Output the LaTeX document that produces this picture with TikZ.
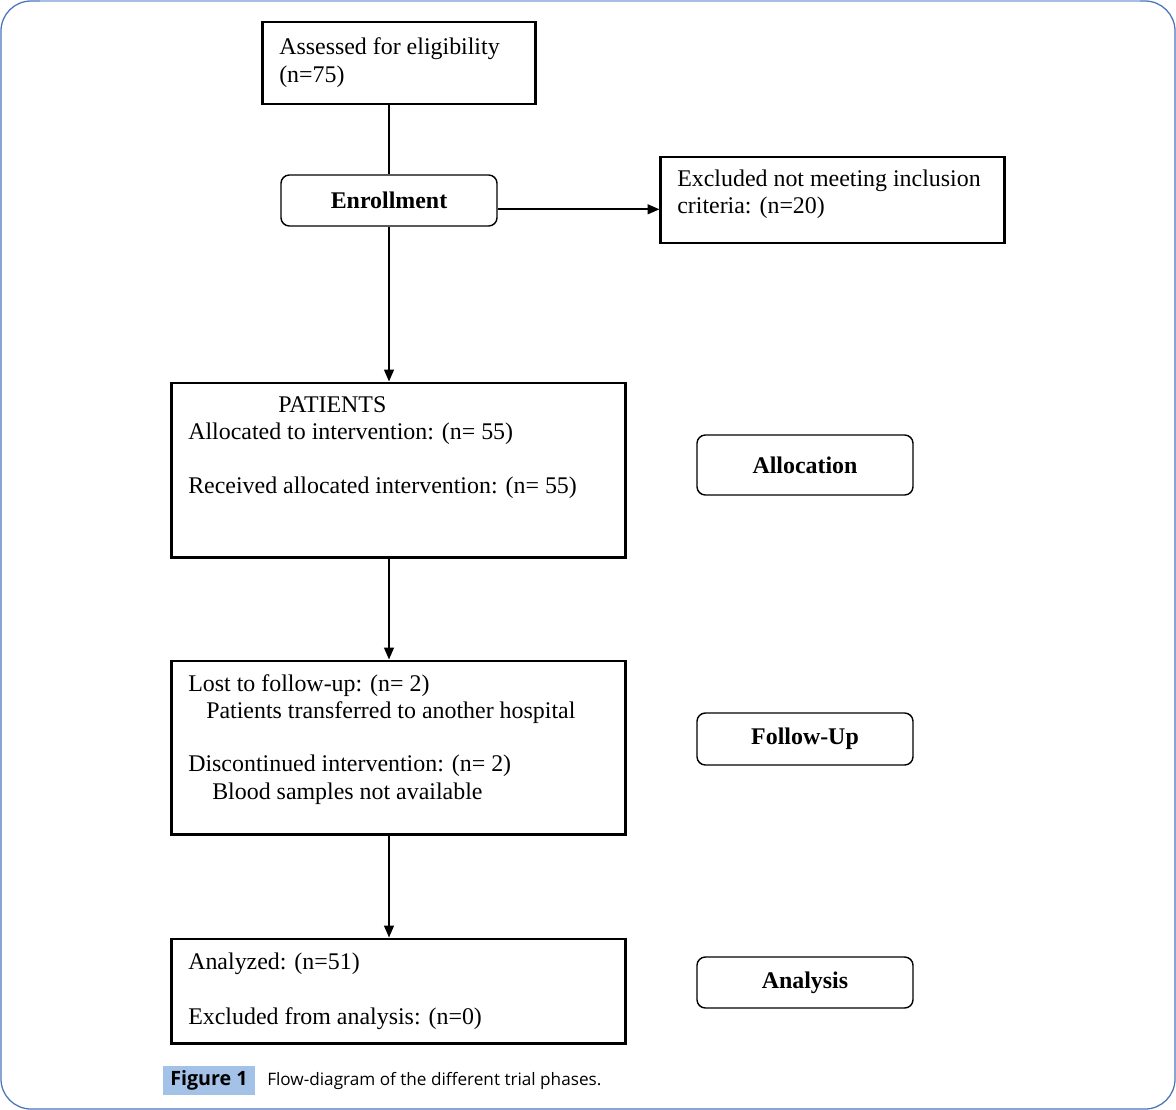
\documentclass[tikz,border=0pt]{standalone}
\usepackage{fontspec}
\setmainfont{Liberation Serif}
\newfontfamily\capfont{Open Sans}
\usetikzlibrary{arrows,arrows.meta,positioning}
\definecolor{framecol}{HTML}{4A74BC}
\definecolor{frametop}{HTML}{A8BFE3}
\definecolor{capfill}{HTML}{A4C2E8}

\begin{document}
\begin{tikzpicture}[
  x=0.025cm, y=-0.025cm,
  every node/.style={font=\fontsize{17}{20}\selectfont},
  box/.style={draw, line width=2.1pt, inner sep=0pt},
  widebox/.style={box, minimum width=11.325cm},
  phase/.style={draw, rounded corners=6pt, line width=1pt, minimum width=5.4cm, font=\fontsize{17}{20}\selectfont\bfseries},
  txt/.style={anchor=base west, inner sep=0pt},
  flow/.style={line width=1.2pt, -{Triangle[length=8.5pt,width=7pt]}}
]
\useasboundingbox (0,0) rectangle (1176,1110);
\draw[framecol, line width=0.9pt, rounded corners=0.75cm] (1,1) rectangle (1175,1109);
\draw[frametop, line width=0.9pt] (40,1) -- (1140,1);

% boxes
\node[box, minimum width=6.8cm, minimum height=2.05cm] (assess) at (399,63) {};
\node[phase, minimum height=1.275cm] (enroll) at (389,200.5) {Enrollment};
\node[box, minimum width=8.575cm, minimum height=2.15cm] (excl) at (832.5,200) {};
\node[widebox, minimum height=4.35cm] (patients) at (398.5,470) {};
\node[widebox, minimum height=4.325cm] (lost) at (398.5,747.5) {};
\node[widebox, minimum height=2.6cm] (analyzed) at (398.5,991) {};
\node[phase, minimum height=1.5cm] (alloc) at (805,465) {Allocation};
\node[phase, minimum height=1.3cm] (follow) at (805,739) {Follow-Up};
\node[phase, minimum height=1.275cm] (analysis) at (805,982.5) {Analysis};

% texts
\node[txt] (t-assess1) at (279,55) {Assessed for eligibility};
\node[txt] (t-assess2) at (279,83) {(n=75)};
\node[txt] (t-excl1) at (677,187) {Excluded not meeting inclusion};
\node[txt] (t-excl2) at (677,213) {criteria: (n=20)};
\node[txt] (t-pat) at (278,412) {PATIENTS};
\node[txt] (t-pat1) at (188,439) {Allocated to intervention: (n= 55)};
\node[txt] (t-pat2) at (188,493) {Received allocated intervention: (n= 55)};
\node[txt] (t-lost1) at (188,691) {Lost to follow-up: (n= 2)};
\node[txt] (t-lost2) at (206,718) {Patients transferred to another hospital};
\node[txt] (t-lost3) at (188,771) {Discontinued intervention: (n= 2)};
\node[txt] (t-lost4) at (212,799) {Blood samples not available};
\node[txt] (t-an1) at (188,969) {Analyzed: (n=51)};
\node[txt] (t-an2) at (188,1024) {Excluded from analysis: (n=0)};

% connectors
\draw[line width=1.2pt] (assess.south -| enroll.north) -- (enroll.north);
\draw[flow] (enroll.south) -- (enroll.south |- patients.north);
\draw[flow] ([yshift=-0.22cm]enroll.east) -- ([yshift=-0.22cm]enroll.east -| excl.west);
\draw[flow] (patients.south -| enroll.south) -- (lost.north -| enroll.south);
\draw[flow] (lost.south -| enroll.south) -- (analyzed.north -| enroll.south);

% caption
\node[fill=capfill, minimum width=2.3cm, minimum height=0.725cm, inner sep=0pt,
  font=\capfont\fontsize{14}{16}\selectfont\bfseries] (figlabel) at (209,1080.5) {Figure 1};
\node[anchor=west, inner sep=0pt, font=\capfont\fontsize{12.2}{15}\selectfont] (figtext) at (267,1080.5) {Flow-diagram of the different trial phases.};
\end{tikzpicture}
\end{document}
